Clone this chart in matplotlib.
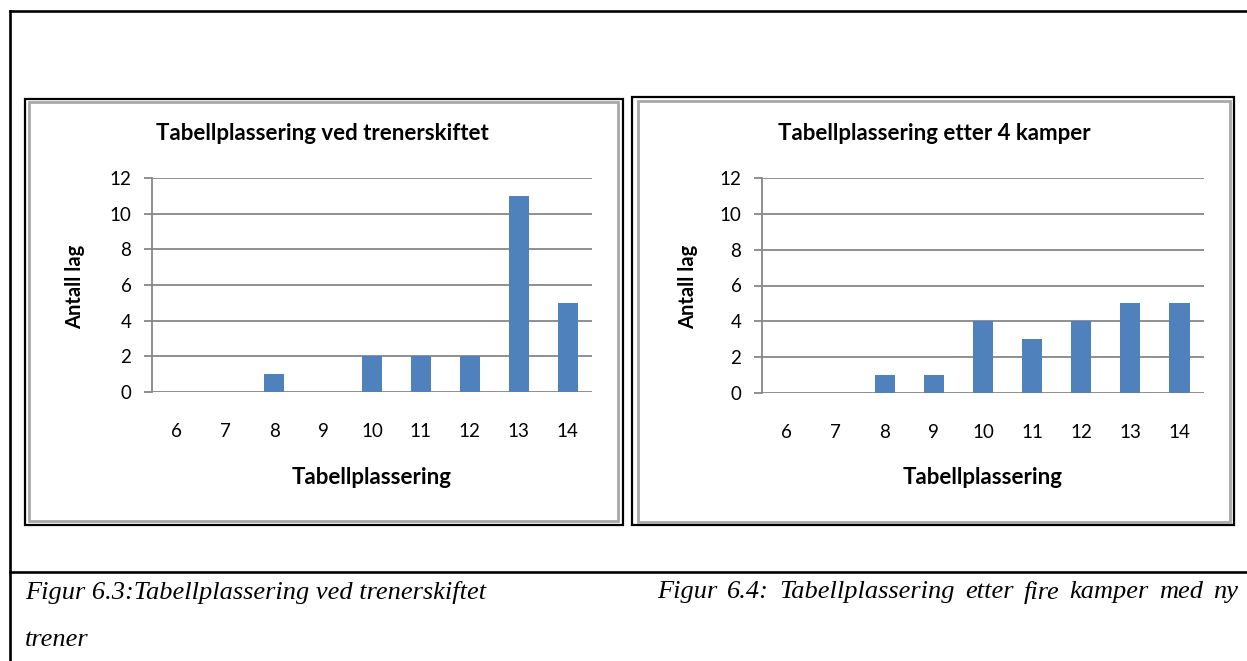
import matplotlib
matplotlib.use('Agg')
import matplotlib.pyplot as plt
from matplotlib.patches import Rectangle
from matplotlib.lines import Line2D

W, H = 1247, 661

positions = [6, 7, 8, 9, 10, 11, 12, 13, 14]
teams_at_change = [0, 0, 1, 0, 2, 2, 2, 11, 5]
teams_after_4 = [0, 0, 1, 1, 4, 3, 4, 5, 5]
yticks = [0, 2, 4, 6, 8, 10, 12]

title_left = 'Tabellplassering ved trenerskiftet'
title_right = 'Tabellplassering etter 4 kamper'
xlabel = 'Tabellplassering'
ylabel = 'Antall lag'
caption_left = 'Figur 6.3:Tabellplassering ved trenerskiftet'
caption_left2 = 'trener'
caption_right = 'Figur 6.4: Tabellplassering etter fire kamper med ny'

bar_color = '#4F81BD'
grid_color = '#878787'
sans = ['Lato', 'DejaVu Sans']
serif = ['Liberation Serif', 'DejaVu Serif']


def fx(x):
    return x / W


def fy(y):
    return 1 - y / H


def box(x0, y0, x1, y1):
    return [fx(x0), fy(y1), (x1 - x0) / W, (y1 - y0) / H]


fig = plt.figure(figsize=(W / 100, H / 100), dpi=100)
fig.patch.set_facecolor('white')

# page frame lines
for xs, ys in [([10, W], [11, 11]), ([10, 10], [11, H]), ([10, W], [572, 572])]:
    fig.add_artist(Line2D([fx(v) for v in xs], [fy(v) for v in ys],
                          transform=fig.transFigure, color='black', lw=1.9))


def panel(x0, y0, x1, y1, gx0, gy0, gx1, gy1):
    fig.add_artist(Rectangle((fx(x0), fy(y1)), (x1 - x0) / W, (y1 - y0) / H,
                             transform=fig.transFigure, fill=False,
                             edgecolor='black', lw=1.6))
    fig.add_artist(Rectangle((fx(gx0), fy(gy1)), (gx1 - gx0) / W, (gy1 - gy0) / H,
                             transform=fig.transFigure, fill=False,
                             edgecolor='#A8A8A8', lw=2.0))


panel(25, 99, 623, 525, 29, 102, 618, 521)
panel(632, 97, 1234, 525, 638, 101, 1230, 522)


def chart(rect, values, title, title_x, ylab_x):
    ax = fig.add_axes(box(*rect))
    ax.bar(positions, values, width=0.41, color=bar_color, zorder=3)
    ax.set_xlim(5.5, 14.5)
    ax.set_ylim(0, 12)
    ax.set_yticks(yticks)
    ax.set_xticks(positions)
    ax.set_xticklabels([str(p) for p in positions], fontsize=13.5, family=sans)
    ax.set_yticklabels([str(v) for v in yticks], fontsize=13.5, family=sans)
    ax.grid(axis='y', color=grid_color, lw=1.3, zorder=1)
    ax.set_axisbelow(True)
    for s in ['top', 'right', 'bottom']:
        ax.spines[s].set_visible(False)
    ax.spines['left'].set_color(grid_color)
    ax.spines['left'].set_linewidth(1.3)
    ax.tick_params(axis='x', length=0, pad=22)
    ax.tick_params(axis='y', length=5.8, width=1.3, color=grid_color, pad=9)
    fig.text(fx(title_x), fy(133), title, ha='center', va='center',
             fontsize=16, fontweight='bold', family=sans)
    fig.text(fx((rect[0] + rect[2]) / 2), fy(478), xlabel, ha='center', va='center',
             fontsize=16, fontweight='bold', family=sans)
    fig.text(fx(ylab_x), fy(287), ylabel, ha='center', va='center', rotation=90,
             fontsize=14.5, fontweight='bold', family=sans)
    return ax


chart((152, 178, 592, 392), teams_at_change, title_left, 322, 75)
chart((762, 178, 1204, 393), teams_after_4, title_right, 934, 688)

# captions
cap_kw = dict(fontsize=19, style='italic', family=serif, va='center', ha='left')
fig.text(fx(25), fy(592), caption_left, **cap_kw)
fig.text(fx(25), fy(640), caption_left2, **cap_kw)

# justified right caption
words = caption_right.split()
texts = [fig.text(0, fy(592), w, **cap_kw) for w in words]
fig.canvas.draw()
r = fig.canvas.get_renderer()
widths = [t.get_window_extent(r).width for t in texts]
x_start, x_end = 657, 1238
gap = (x_end - x_start - sum(widths)) / (len(words) - 1)
x = x_start
for t, w in zip(texts, widths):
    t.set_x(fx(x))
    x += w + gap

fig.savefig('out.png', dpi=100)
